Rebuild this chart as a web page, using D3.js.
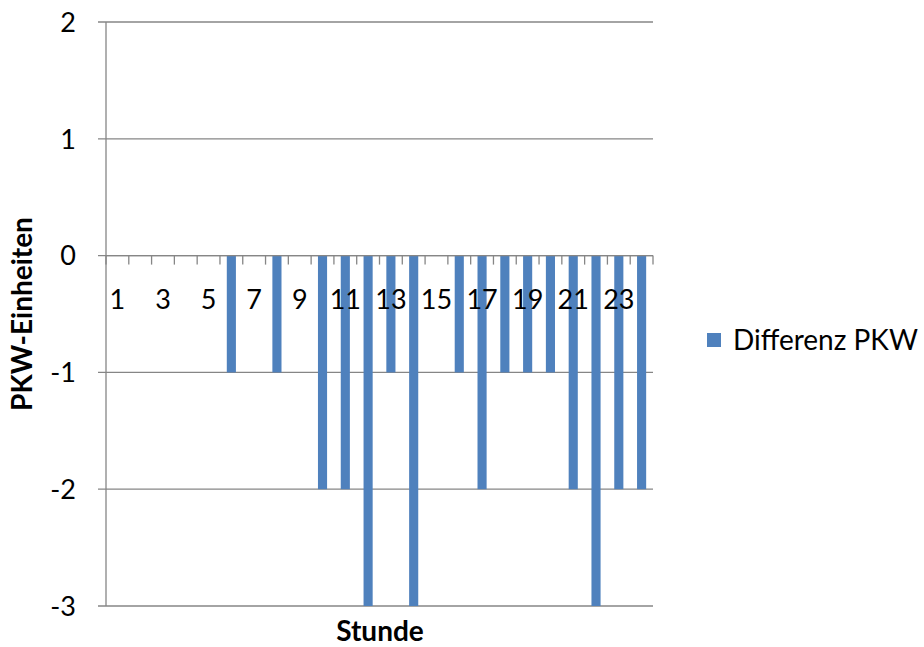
<!DOCTYPE html>
<html>
<head>
<meta charset="utf-8">
<script src="https://cdn.jsdelivr.net/npm/d3@7"></script>
<style>
  html, body { margin: 0; padding: 0; background: #fff; }
  svg { display: block; font-family: Lato, "Open Sans", sans-serif; }
</style>
</head>
<body>
<svg id="chart" width="924" height="647"></svg>
<script>
// Hourly difference in passenger-car units
const hours = d3.range(1, 25);
const differenzPKW = [0, 0, 0, 0, 0, -1, 0, -1, 0, -2, -2, -3, -1, -3, 0, -1, -2, -1, -1, -1, -2, -3, -2, -2];
const yTicks = [2, 1, 0, -1, -2, -3];
const seriesName = "Differenz PKW";

const svg = d3.select("#chart");
const margin = { left: 106, right: 271, top: 22, bottom: 41 };
const W = 924, H = 647;
const gridColor = "#868686";
const barColor = "#4F81BD";

const x = d3.scaleBand()
  .domain(hours)
  .range([margin.left, W - margin.right])
  .paddingInner(0.6)
  .paddingOuter(0.3);

const xCat = d3.scaleBand().domain(hours).range([margin.left, W - margin.right]);

const y = d3.scaleLinear()
  .domain([-3, 2])
  .range([H - margin.bottom, margin.top]);

// Horizontal gridlines
svg.append("g")
  .selectAll("line")
  .data(yTicks)
  .join("line")
  .attr("x1", margin.left - 8)
  .attr("x2", W - margin.right)
  .attr("y1", d => y(d))
  .attr("y2", d => y(d))
  .attr("stroke", gridColor)
  .attr("stroke-width", 1.3);

// Y axis line
svg.append("line")
  .attr("x1", margin.left).attr("x2", margin.left)
  .attr("y1", y(2)).attr("y2", y(-3))
  .attr("stroke", gridColor).attr("stroke-width", 1.3);

// Y tick labels
svg.append("g")
  .selectAll("text")
  .data(yTicks)
  .join("text")
  .attr("x", margin.left - 30)
  .attr("y", d => y(d))
  .attr("dy", "0.36em")
  .attr("text-anchor", "end")
  .attr("font-size", 27)
  .attr("fill", "#000")
  .text(d => d);

// Bars
svg.append("g")
  .selectAll("rect")
  .data(hours.map((h, i) => ({ h, v: differenzPKW[i] })))
  .join("rect")
  .attr("x", d => x(d.h))
  .attr("width", x.bandwidth())
  .attr("y", d => y(Math.max(0, d.v)))
  .attr("height", d => Math.abs(y(d.v) - y(0)))
  .attr("fill", barColor);

// Category axis at zero with tick marks at category boundaries
const xAxisG = svg.append("g").attr("transform", `translate(0,${y(0)})`);
xAxisG.append("line")
  .attr("x1", margin.left).attr("x2", W - margin.right)
  .attr("stroke", gridColor).attr("stroke-width", 1.3);
const boundaries = hours.map(h => xCat(h)).concat([W - margin.right]);
xAxisG.selectAll("line.tick")
  .data(boundaries)
  .join("line")
  .attr("class", "tick")
  .attr("x1", d => d).attr("x2", d => d)
  .attr("y1", 0).attr("y2", 9)
  .attr("stroke", gridColor).attr("stroke-width", 1.3);

// Category labels (every second hour)
xAxisG.selectAll("text")
  .data(hours.filter(h => h % 2 === 1))
  .join("text")
  .attr("x", d => xCat(d) + xCat.bandwidth() / 2)
  .attr("y", 44)
  .attr("dy", "0.36em")
  .attr("text-anchor", "middle")
  .attr("font-size", 27)
  .attr("fill", "#000")
  .text(d => d);

// Axis titles
svg.append("text")
  .attr("x", 380)
  .attr("y", 631)
  .attr("dy", "0.36em")
  .attr("text-anchor", "middle")
  .attr("font-size", 28)
  .attr("font-weight", "bold")
  .text("Stunde");

svg.append("text")
  .attr("transform", `translate(22,${y(-0.5)}) rotate(-90)`)
  .attr("dy", "0.36em")
  .attr("text-anchor", "middle")
  .attr("font-size", 28)
  .attr("font-weight", "bold")
  .text("PKW-Einheiten");

// Legend
const legend = svg.append("g").attr("transform", "translate(707,340)");
legend.append("rect")
  .attr("x", 0).attr("y", -7)
  .attr("width", 14).attr("height", 14)
  .attr("fill", barColor);
legend.append("text")
  .attr("x", 26).attr("y", 0)
  .attr("dy", "0.36em")
  .attr("font-size", 28)
  .text(seriesName);
</script>
</body>
</html>
